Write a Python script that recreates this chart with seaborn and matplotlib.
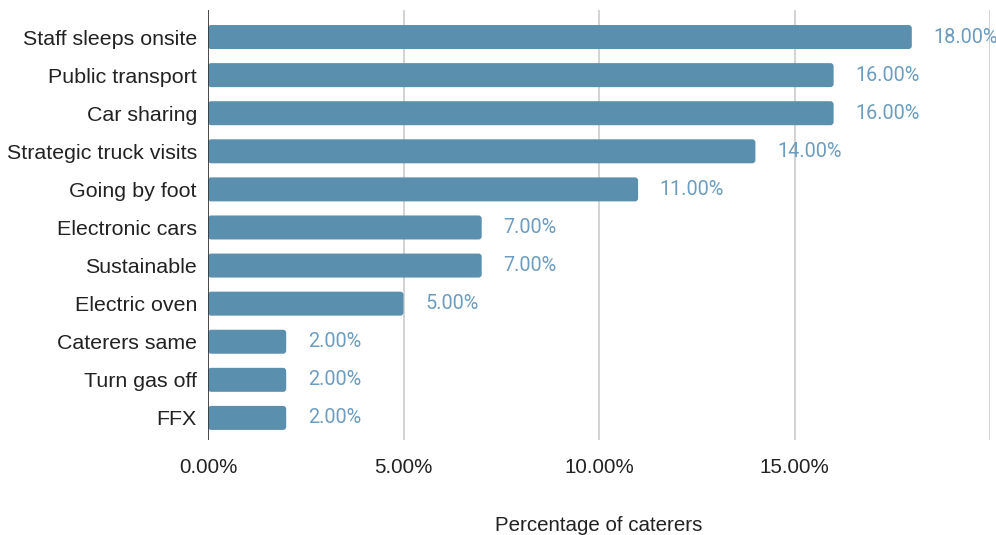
import matplotlib
matplotlib.use("Agg")
import matplotlib.pyplot as plt
from matplotlib.patches import FancyBboxPatch
import seaborn as sns
import pandas as pd

categories = [
    "Staff sleeps onsite", "Public transport", "Car sharing",
    "Strategic truck visits", "Going by foot", "Electronic cars",
    "Sustainable", "Electric oven", "Caterers same", "Turn gas off", "FFX",
]
values = [18, 16, 16, 14, 11, 7, 7, 5, 2, 2, 2]
x_ticks = [0, 5, 10, 15, 20]
x_tick_labels = ["0.00%", "5.00%", "10.00%", "15.00%", ""]

df = pd.DataFrame({"category": categories, "pct": values})

sns.set_theme(style="white")
plt.rcParams["font.family"] = ["Liberation Sans", "DejaVu Sans"]

BAR = "#5a8fae"
LABEL = "#6c9dc0"

fig = plt.figure(figsize=(9.96, 5.35), dpi=100)
ax = fig.add_axes([208 / 996, 1 - 440 / 535, (990 - 208) / 996, 430 / 535])

sns.barplot(data=df, x="pct", y="category", orient="h", color=BAR,
            saturation=1, width=0.63, ax=ax, zorder=3)

# rounded bar ends
for p in list(ax.patches):
    x0, y0 = p.get_x(), p.get_y()
    w, h = p.get_width(), p.get_height()
    p.remove()
    ax.add_patch(FancyBboxPatch((x0, y0), w, h,
                                boxstyle="round,pad=0,rounding_size=0.08",
                                mutation_aspect=39.1 / 38.1,
                                facecolor=BAR, edgecolor="none", zorder=3))

for i, v in enumerate(values):
    ax.text(v + 0.55, i, f"{v:.2f}%", va="center", ha="left",
            color=LABEL, fontsize=14.3, family=["Roboto", "DejaVu Sans"],
            zorder=4, clip_on=False)

ax.set_xlim(0, 20)
ax.set_ylim(10.58, -0.71)
ax.set_xticks(x_ticks)
ax.set_xticklabels(x_tick_labels, fontsize=14.8, color="#222222")
ax.tick_params(axis="y", labelsize=15.4, labelcolor="#222222", length=0, pad=8)
ax.tick_params(axis="x", length=0, pad=13)
ax.grid(axis="x", color="#cccccc", linewidth=1.2, zorder=0)
for s in ax.spines.values():
    s.set_visible(False)
ax.axvline(0, color="#333333", linewidth=1.2, zorder=5)
ax.set_ylabel("")
ax.set_xlabel("Percentage of caterers", fontsize=14.8, color="#222222", labelpad=28)

fig.savefig("out.png", dpi=100, facecolor="white")
